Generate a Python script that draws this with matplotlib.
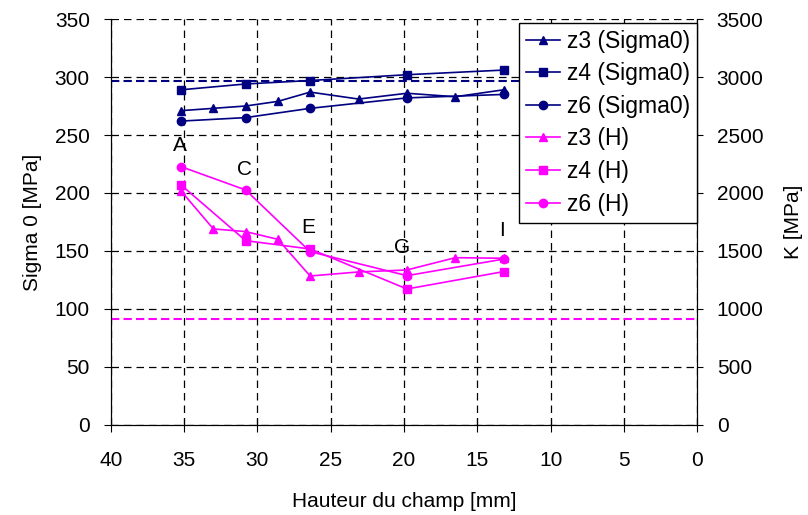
import matplotlib.pyplot as plt

plt.rcParams['font.family'] = ['Liberation Sans', 'DejaVu Sans']

# x positions (mm)
x_z3 = [35.2, 33.0, 30.8, 28.6, 26.4, 23.1, 19.8, 16.5, 13.2]
x_z46 = [35.2, 30.8, 26.4, 19.8, 13.2]

# Sigma0 [MPa] (left axis)
sig_z3 = [271, 273, 275, 279, 287, 281, 286, 283, 289]
sig_z4 = [289, 294, 297, 302, 306]
sig_z6 = [262, 265, 273, 282, 285]

# H -> K [MPa] (right axis)
h_z3 = [2017, 1690, 1667, 1600, 1284, 1319, 1336, 1442, 1437]
h_z4 = [2069, 1589, 1517, 1172, 1322]
h_z6 = [2227, 2026, 1494, 1287, 1430]

sigma_ref = 297
k_ref = 910

point_labels = ['A', 'C', 'E', 'G', 'I']
label_x = [35.3, 30.9, 26.5, 20.1, 13.3]
label_y = [241, 220, 170, 153, 168]

navy = '#000080'
mag = '#FF00FF'
fs = 15

fig = plt.figure(figsize=(8.08, 5.15), dpi=100)
ax = fig.add_axes([0.137, 0.175, 0.726, 0.788])
ax2 = ax.twinx()

l1, = ax.plot(x_z3, sig_z3, color=navy, marker='^', ms=6, lw=1.2, label='z3 (Sigma0)')
l2, = ax.plot(x_z46, sig_z4, color=navy, marker='s', ms=6, lw=1.2, label='z4 (Sigma0)')
l3, = ax.plot(x_z46, sig_z6, color=navy, marker='o', ms=6, lw=1.2, label='z6 (Sigma0)')
ax.axhline(sigma_ref, color=navy, ls='--', lw=1.5, dashes=(4, 2))

l4, = ax2.plot(x_z3, h_z3, color=mag, marker='^', ms=6, lw=1.2, label='z3 (H)')
l5, = ax2.plot(x_z46, h_z4, color=mag, marker='s', ms=6, lw=1.2, label='z4 (H)')
l6, = ax2.plot(x_z46, h_z6, color=mag, marker='o', ms=6, lw=1.2, label='z6 (H)')
ax2.axhline(k_ref, color=mag, ls='--', lw=1.5, dashes=(4, 2))

for t, xx, yy in zip(point_labels, label_x, label_y):
    ax.text(xx, yy, t, fontsize=fs, ha='center', va='center')

ax.set_xlim(40, 0)
ax.set_ylim(0, 350)
ax2.set_ylim(0, 3500)
ax.set_xticks(range(40, -1, -5))
ax.set_yticks(range(0, 351, 50))
ax2.set_yticks(range(0, 3501, 500))

ax.grid(True, color='black', ls='--', lw=0.9, dashes=(6, 4))
ax.spines['top'].set_visible(False)
ax2.spines['top'].set_visible(False)
ax.tick_params(axis='y', direction='out', length=5, pad=10, labelsize=fs)
ax.tick_params(axis='x', direction='inout', length=10, pad=14, labelsize=fs)
ax2.tick_params(axis='y', direction='out', length=4, pad=10, labelsize=fs)

ax.set_xlabel('Hauteur du champ [mm]', fontsize=fs, labelpad=16)
ax.set_ylabel('Sigma 0 [MPa]', fontsize=fs, labelpad=9)
ax2.set_ylabel('K [MPa]', fontsize=fs, labelpad=15)

leg = ax2.legend(handles=[l1, l2, l3, l4, l5, l6], loc='upper right',
                 bbox_to_anchor=(1.0, 0.991), fontsize=16.5, frameon=True,
                 fancybox=False, edgecolor='black', framealpha=1,
                 handlelength=1.5, borderpad=0.3, labelspacing=0.42,
                 handletextpad=0.3, borderaxespad=0)
leg.get_frame().set_linewidth(1.0)

fig.savefig('out.png', dpi=100)
